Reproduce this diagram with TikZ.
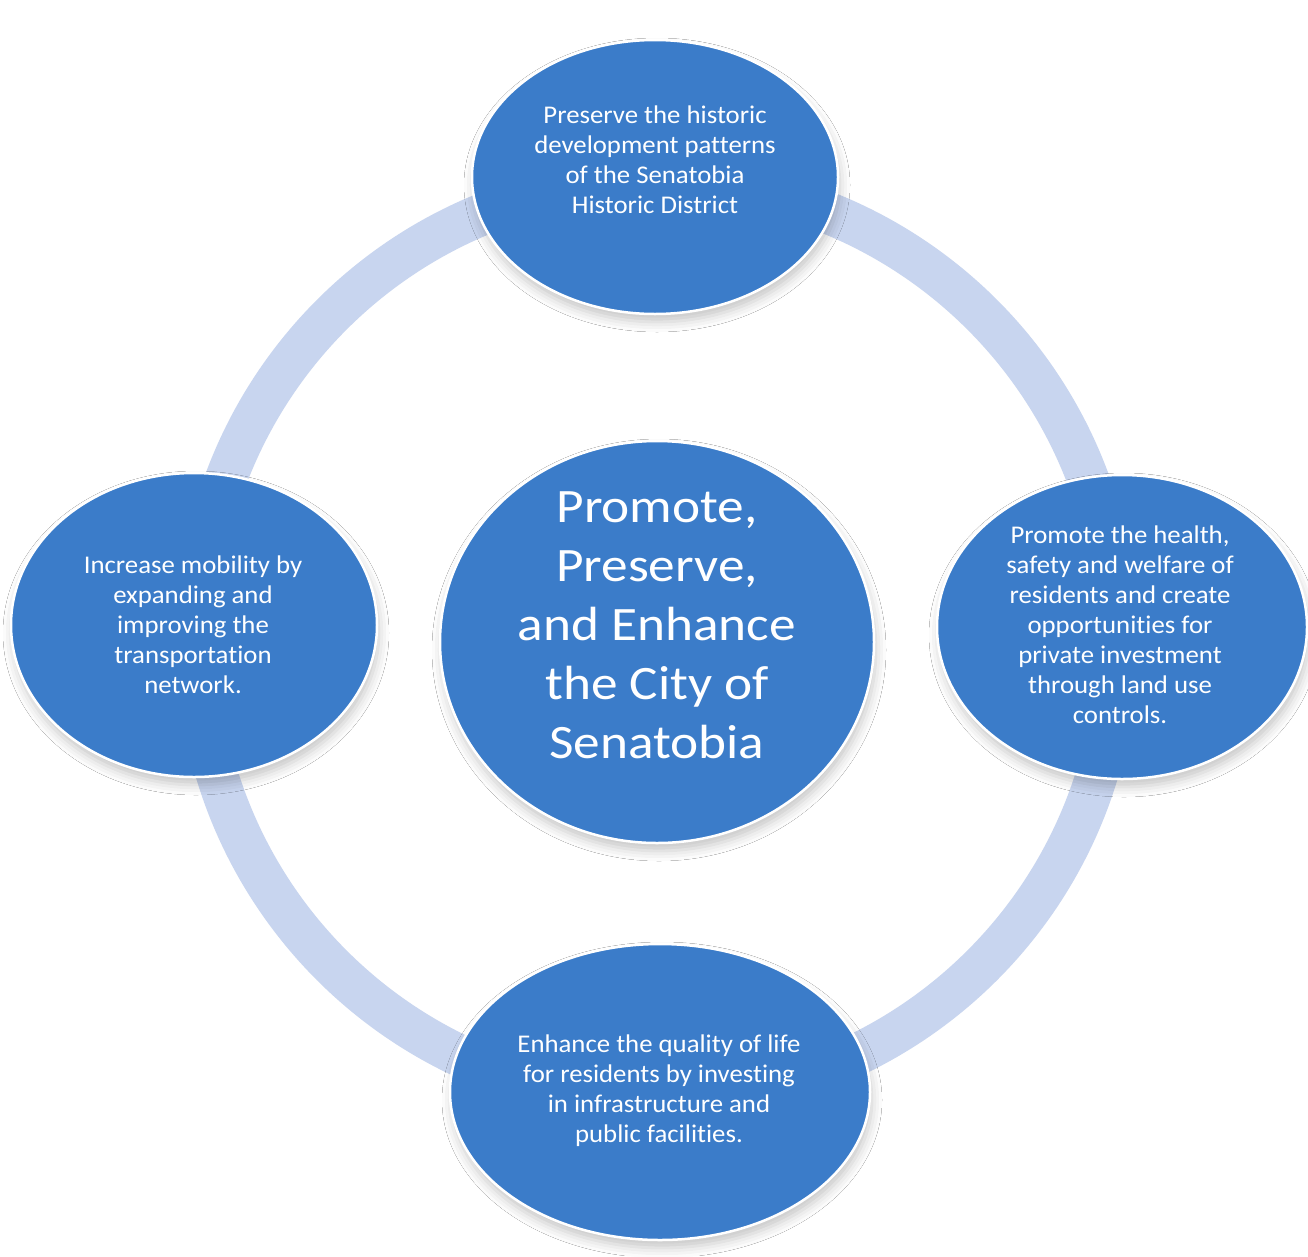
\documentclass[tikz,border=0pt]{standalone}
\usepackage{fontspec}
\setmainfont{Carlito}
\newfontfamily\goalfont{Carlito}[FakeStretch=1.05, Ligatures=NoCommon]
\newfontfamily\corefont{Carlito}[FakeStretch=1.11, Ligatures=NoCommon]
\usetikzlibrary{shapes.geometric,shadows.blur}
\definecolor{goalblue}{HTML}{3B7CC9}
\definecolor{ringblue}{HTML}{C8D5EF}
\begin{document}
\begin{tikzpicture}[x=1pt,y=-1pt,
  goal/.style={ellipse, fill=goalblue, draw=white, line width=2.5pt, inner sep=0pt,
    blur shadow={shadow xshift=2pt, shadow yshift=-8pt, shadow blur radius=10pt, shadow opacity=22}},
  goaltext/.style={text=white, align=center, inner sep=0pt, font=\goalfont\fontsize{25.5}{30}\selectfont},
  coretext/.style={text=white, align=center, inner sep=0pt, font=\corefont\fontsize{48}{59}\selectfont}]
\useasboundingbox (0,0) rectangle (1308,1256);
\fill[white] (0,0) rectangle (1308,1256);

% connecting ring behind the goals
\draw[ringblue, line width=42pt] (657,640) circle[radius=460pt];

% goal ellipses
\node[goal, minimum width=366pt, minimum height=274pt] (top) at (655,177) {};
\node[goal, minimum width=366pt, minimum height=304pt] (left) at (194,625) {};
\node[goal, minimum width=370pt, minimum height=304pt] (right) at (1122,627) {};
\node[goal, minimum width=420pt, minimum height=296pt] (bottom) at (660,1092) {};
\node[goal, minimum width=434pt, minimum height=402pt] (core) at (657,642) {};

% texts
\node[goaltext] (toptext) at (655,160) {Preserve the historic\\development patterns\\of the Senatobia\\Historic District};
\node[goaltext] (lefttext) at (193,625) {Increase mobility by\\expanding and\\improving the\\transportation\\network.};
\node[goaltext] (righttext) at (1120,625) {Promote the health,\\safety and welfare of\\residents and create\\opportunities for\\private investment\\through land use\\controls.};
\node[goaltext] (bottomtext) at (659,1091) {Enhance the quality of life\\for residents by investing\\in infrastructure and\\public facilities.};
\node[coretext] (coretxt) at (657,625) {Promote,\\Preserve,\\and Enhance\\the City of\\Senatobia};
\end{tikzpicture}
\end{document}
